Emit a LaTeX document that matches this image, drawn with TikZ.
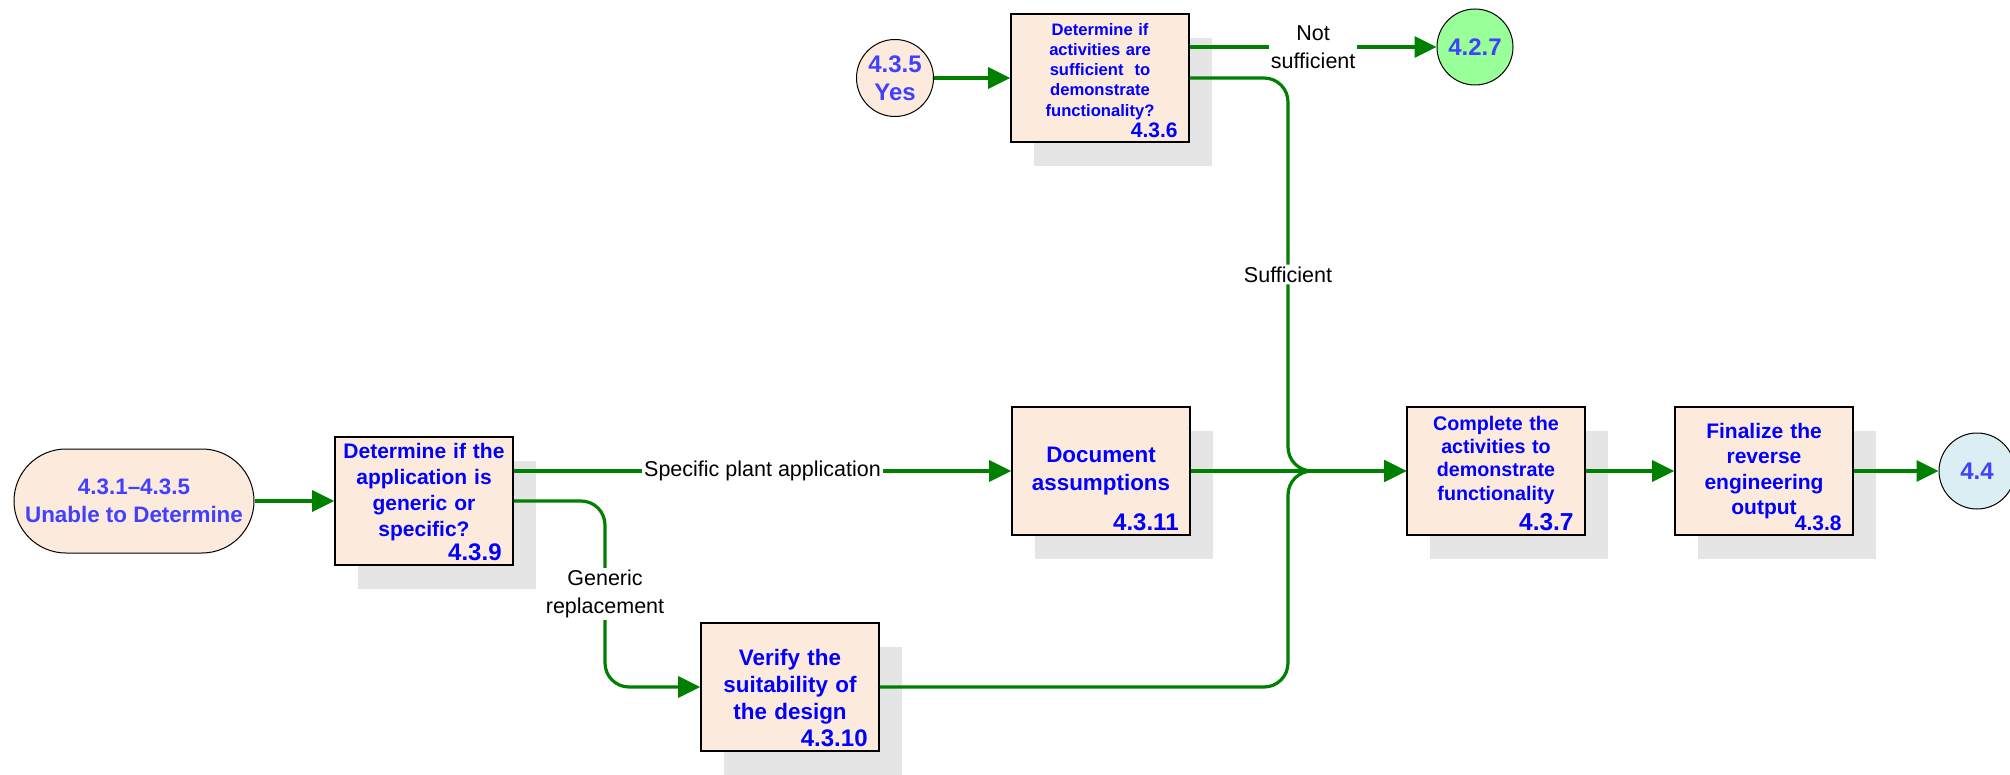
\documentclass[tikz,border=0pt]{standalone}
\usepackage{fontspec}
\setmainfont{Liberation Sans}
\usetikzlibrary{arrows.meta,shadows}

\definecolor{pfirsich}{RGB}{252,234,220}
\definecolor{hellgruen}{RGB}{153,255,153}
\definecolor{hellblau}{RGB}{218,238,243}
\definecolor{pfeilgruen}{RGB}{0,128,0}
\definecolor{textblau}{RGB}{0,0,255}
\definecolor{kreisblau}{RGB}{64,64,255}
\definecolor{schatten}{RGB}{229,229,229}

\tikzset{
	kasten/.style={draw=black, line width=1.6pt, fill=pfirsich,
		minimum width=178pt, minimum height=128pt, inner sep=0pt,
		text width=174pt, align=center, text=textblau,
		drop shadow={shadow xshift=23pt, shadow yshift=-24pt, fill=schatten, opacity=1}},
	kreis/.style={circle, draw=black, line width=1pt, inner sep=0pt, align=center,
		text=kreisblau, font=\bfseries\fontsize{24}{28}\selectfont},
	start/.style={draw=black, line width=1pt, fill=pfirsich, rounded corners=52pt,
		minimum width=240pt, minimum height=104pt, align=center,
		text=kreisblau, font=\bfseries\fontsize{22.4}{27.5}\selectfont},
	nummer/.style={anchor=base east, inner sep=0pt, text=textblau},
	pfeil/.style={draw=pfeilgruen, line width=3.2pt, -{Triangle[length=22pt,width=21pt]}},
	beschriftung/.style={fill=white, text=black, inner sep=2pt, align=center,
		font=\fontsize{21.5}{27.5}\selectfont}
}

\begin{document}
\begin{tikzpicture}[x=1pt,y=-1pt]
	\useasboundingbox (0,0) rectangle (2010,775);

	% Einstieg links und oben
	\node[start] (start) at (134,501) {4.3.1--4.3.5\\Unable to Determine};
	\node[kreis, fill=pfirsich, minimum size=77pt] (n435) at (895,78) {4.3.5\\Yes};

	% Prozesskaesten (groessere text depth hebt den Text etwas an)
	\node[kasten, text depth=101pt, font=\bfseries\fontsize{21}{26}\selectfont] (n439) at (424,501)
		{Determine if the\\application is\\generic or\\specific?};
	\node[kasten, text depth=98pt, font=\bfseries\fontsize{16.6}{20.3}\selectfont] (n436) at (1100,78)
		{Determine if\\activities are\\sufficient\ \ to\\demonstrate\\functionality?};
	\node[kasten, font=\bfseries\fontsize{22.4}{28}\selectfont] (n4311) at (1101,471)
		{Document\\assumptions};
	\node[kasten, font=\bfseries\fontsize{22.4}{27}\selectfont] (n4310) at (790,687)
		{Verify the\\suitability of\\the design};
	\node[kasten, text depth=96pt, font=\bfseries\fontsize{19.7}{23.4}\selectfont] (n437) at (1496,471)
		{Complete the\\activities to\\demonstrate\\functionality};
	\node[kasten, font=\bfseries\fontsize{21}{25.5}\selectfont] (n438) at (1764,471)
		{Finalize the\\reverse\\engineering\\output};

	% Nummern unten rechts in den Kaesten
	\foreach \k/\nr/\gr in {n439/4.3.9/24, n436/4.3.6/21, n4311/4.3.11/24,
		n4310/4.3.10/24, n437/4.3.7/24.5, n438/4.3.8/21} {
		\node[nummer, font=\bfseries\fontsize{\gr}{\gr}\selectfont] (\k-nr)
			at ([xshift=-12pt,yshift=5pt]\k.south east) {\nr};
	}

	% Ausgaenge
	\node[kreis, fill=hellgruen, minimum size=76pt] (n427) at (1475,47) {4.2.7};
	\node[kreis, fill=hellblau, minimum size=76pt] (n44) at (1977,471) {4.4};

	% Hilfspunkte fuer die Verzweigungen
	\coordinate (abzweig) at (605,501);
	\coordinate (zusammen) at (1288,471);

	% Verbindungen
	\draw[pfeil] (start.east) -- (n439.west);
	\draw[pfeil] (n435.east) -- (n436.west);
	\draw[pfeil] ([yshift=31pt]n436.east) -- node[beschriftung] {Not\\sufficient} (n427.west);
	\draw[pfeil, rounded corners=24pt] (n436.east) -| node[pos=0.75, beschriftung] {Sufficient}
		(zusammen) -- (n437.west);
	\draw[pfeil] ([yshift=30pt]n439.east) -- node[beschriftung] {Specific plant application} (n4311.west);
	\draw[pfeil, rounded corners=24pt] (n439.east) -- (abzweig) |- node[pos=0.25, beschriftung]
		{Generic\\replacement} (n4310.west);
	\draw[pfeil] (n4311.east) -- (n437.west);
	\draw[pfeil, rounded corners=24pt] (n4310.east) -| (zusammen) -- (n437.west);
	\draw[pfeil] (n437.east) -- (n438.west);
	\draw[pfeil] (n438.east) -- (n44.west);
\end{tikzpicture}
\end{document}
